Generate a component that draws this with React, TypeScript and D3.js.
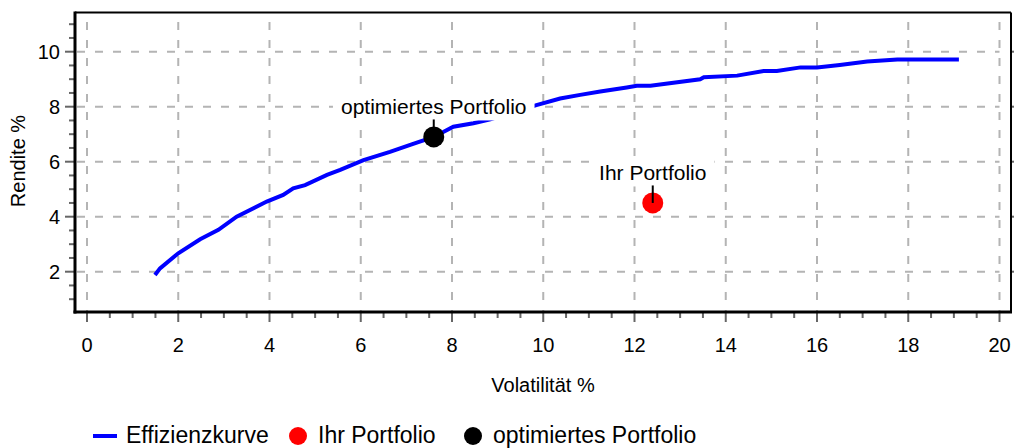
import * as d3 from "d3";
import { useLayoutEffect, useRef, useState } from "react";

// efficient frontier
const curveVol = [1.49, 1.6, 2.0, 2.48, 2.88, 3.28, 3.94, 4.3, 4.52, 4.78, 5.26, 5.55, 6.06, 6.64, 7.1, 7.6, 8.03, 8.47, 8.84, 9.3, 9.85, 10.37, 10.81, 11.25, 11.83, 12.05, 12.35, 13.44, 13.52, 14.25, 14.83, 15.12, 15.64, 16.0, 16.5, 17.1, 17.76, 19.11];
const curveRet = [1.88, 2.12, 2.67, 3.18, 3.52, 4.0, 4.55, 4.79, 5.03, 5.15, 5.52, 5.7, 6.06, 6.36, 6.62, 6.9, 7.27, 7.4, 7.54, 7.78, 8.06, 8.3, 8.43, 8.55, 8.7, 8.76, 8.76, 9.0, 9.07, 9.13, 9.3, 9.3, 9.43, 9.43, 9.52, 9.64, 9.72, 9.72];

const portfolioNames = ["Ihr Portfolio", "optimiertes Portfolio"];
const portfolioVol = [12.4, 7.6];
const portfolioRet = [4.5, 6.9];
const portfolioColors = ["#ff0000", "#000000"];

const xTicks = [0, 2, 4, 6, 8, 10, 12, 14, 16, 18, 20];
const yTicks = [2, 4, 6, 8, 10];

const legendNames = ["Effizienzkurve", "Ihr Portfolio", "optimiertes Portfolio"];

const width = 1014;
const height = 448;
const frame = { left: 75, right: 1011, top: 12.5, bottom: 312 };
const font = "'Liberation Sans', Arial, sans-serif";

function PointLabel({ x, y, text, color }) {
  const ref = useRef(null);
  const [w, setW] = useState(0);
  useLayoutEffect(() => {
    if (ref.current) setW(ref.current.getComputedTextLength());
  }, [text]);
  const base = y - 22.5;
  return (
    <g>
      <rect x={x - w / 2 - 8} y={base - 24} width={w + 16} height={30} fill="#fff" />
      <text ref={ref} x={x} y={base} textAnchor="middle" fontSize={21} fill="#000">
        {text}
      </text>
      <circle cx={x} cy={y} r={10.5} fill={color} />
      <line x1={x} x2={x} y1={base + 5} y2={y} stroke="#000" strokeWidth={2} />
    </g>
  );
}

export default function App() {
  const x = d3.scaleLinear().domain([0, 20]).range([87, 999.5]);
  const y = d3.scaleLinear().domain([2, 10]).range([271.7, 51.7]);

  const minorX = d3.range(0, 20.01, 0.5).filter((v) => v % 2 !== 0);
  const minorY = d3.range(1, 11.01, 0.5).filter((v) => v % 2 !== 0 && y(v) < frame.bottom && y(v) > frame.top);

  const line = d3
    .line()
    .x((d) => x(d[0]))
    .y((d) => y(d[1]));
  const pts = curveVol.map((v, i) => [v, curveRet[i]]);

  const legendX = [93, 298, 473];

  return (
    <svg
      width={width}
      height={height}
      style={{ position: "absolute", left: 0, top: 0, fontFamily: font, background: "#fff" }}
    >
      {/* grid */}
      <g stroke="#b4b4b4" strokeWidth={2} strokeDasharray="8 10">
        {xTicks.map((t) => (
          <line key={"gx" + t} x1={x(t)} x2={x(t)} y1={22} y2={frame.bottom} />
        ))}
        {yTicks.map((t) => (
          <line key={"gy" + t} x1={frame.left + 2} x2={x(20)} y1={y(t)} y2={y(t)} />
        ))}
      </g>

      {/* ticks */}
      <g stroke="#666" strokeWidth={2}>
        {xTicks.map((t) => (
          <line key={"tx" + t} x1={x(t)} x2={x(t)} y1={frame.bottom} y2={frame.bottom + 10} />
        ))}
        {minorX.map((t) => (
          <line key={"mx" + t} x1={x(t)} x2={x(t)} y1={frame.bottom} y2={frame.bottom + 6} />
        ))}
        {yTicks.map((t) => (
          <line key={"ty" + t} x1={frame.left - 10} x2={frame.left} y1={y(t)} y2={y(t)} />
        ))}
        {minorY.map((t) => (
          <line key={"my" + t} x1={frame.left - 6} x2={frame.left} y1={y(t)} y2={y(t)} />
        ))}
        {yTicks.map((t) => (
          <line key={"ry" + t} x1={frame.right} x2={frame.right + 4} y1={y(t)} y2={y(t)} />
        ))}
      </g>

      {/* frame */}
      <line x1={frame.left} x2={frame.right} y1={frame.top} y2={frame.top} stroke="#000" strokeWidth={2} />
      <line x1={frame.right} x2={frame.right} y1={frame.top} y2={frame.bottom} stroke="#000" strokeWidth={2} />
      <line x1={frame.left} x2={frame.left} y1={frame.top - 1} y2={frame.bottom + 1.5} stroke="#000" strokeWidth={3} />
      <line x1={frame.left - 1.5} x2={frame.right + 1} y1={frame.bottom} y2={frame.bottom} stroke="#000" strokeWidth={3} />

      {/* tick labels */}
      <g fontSize={20} fill="#000">
        {xTicks.map((t) => (
          <text key={"lx" + t} x={x(t)} y={352} textAnchor="middle">
            {t}
          </text>
        ))}
        {yTicks.map((t) => (
          <text key={"ly" + t} x={60} y={y(t) + 7} textAnchor="end">
            {t}
          </text>
        ))}
      </g>

      {/* axis titles */}
      <text x={543} y={392} textAnchor="middle" fontSize={20}>
        Volatilität %
      </text>
      <text transform="translate(25,161) rotate(-90)" textAnchor="middle" fontSize={20}>
        Rendite %
      </text>

      {/* frontier */}
      <path d={line(pts)} fill="none" stroke="#0000ff" strokeWidth={4} />

      {/* portfolios */}
      {portfolioNames.map((n, i) => (
        <PointLabel key={n} x={x(portfolioVol[i])} y={y(portfolioRet[i])} text={n} color={portfolioColors[i]} />
      ))}

      {/* legend */}
      <g fontSize={23}>
        <line x1={legendX[0]} x2={legendX[0] + 24} y1={436} y2={436} stroke="#0000ff" strokeWidth={4} />
        <text x={legendX[0] + 33} y={443}>
          {legendNames[0]}
        </text>
        {[1, 2].map((i) => (
          <g key={legendNames[i]}>
            <circle cx={legendX[i]} cy={436} r={9} fill={portfolioColors[i - 1]} />
            <text x={legendX[i] + 20} y={443}>
              {legendNames[i]}
            </text>
          </g>
        ))}
      </g>
    </svg>
  );
}
